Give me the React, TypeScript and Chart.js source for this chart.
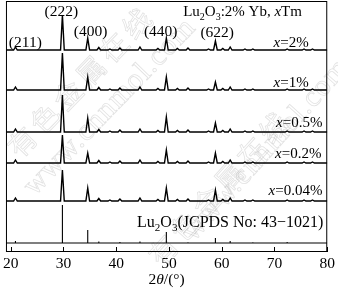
import React, { useEffect, useRef } from "react";
import { Chart, registerables } from "chart.js";

Chart.register(...registerables);

// ---- data ----
const xMin = 19.1;
const xMax = 80;
const xTickValues = [20, 30, 40, 50, 60, 70, 80];

// 2θ positions of the diffraction peaks (degrees)
const peakPositions = [20.9, 29.8, 34.6, 36.7, 38.8, 40.7, 44.5, 47.9, 49.5, 51.6, 53.6, 57.5, 58.8, 60.2, 61.6, 64.4, 65.9, 72.4, 75.6, 77.2];

const seriesLabels = ["x=2%", "x=1%", "x=0.5%", "x=0.2%", "x=0.04%"];
// vertical offsets of the stacked patterns (a.u.)
const seriesOffsets = [202, 162, 120, 89, 51];
// peak intensities (a.u.) for each sample, in the order of peakPositions
const int2 = [3, 35, 12, 2.5, 1, 2, 3, 1.5, 12, 1.5, 2, 1, 9, 1.5, 3, 1, 1, 1, 1, 1];
const int1 = [3, 37, 13, 2.5, 1, 2, 3, 1.5, 13, 1.5, 2, 1, 8, 1.5, 3, 1, 1, 1, 1, 1];
const int05 = [3, 37, 14, 2.5, 1, 2, 3, 1.5, 15, 1.5, 2, 1, 9, 1.5, 3, 1, 1, 1, 1, 1];
const int02 = [3, 28, 10, 2.5, 1, 2, 3, 1.5, 13, 1.5, 2, 1, 10, 1.5, 3, 1, 1, 1, 1, 1];
const int004 = [3, 31, 13, 2.5, 1, 2, 3, 1.5, 13, 1.5, 2, 1, 11, 1.5, 3, 1, 1, 1, 1, 1];
const seriesIntensities = [int2, int1, int05, int02, int004];

// JCPDS 43-1021 reference sticks
const jcpdsOffset = 9;
const jcpdsIntensities = [2, 38, 13, 1.5, 0, 1, 1.5, 0, 11, 0, 0.8, 0, 5, 0, 2, 0, 0.8, 1, 0.6, 0];

const peakLabels = ["(211)", "(222)", "(400)", "(440)", "(622)"];

const yMin = 0;
const yMax = 251;
const peakHalfWidth = 0.35;

// ---- helpers ----
const SERIF = "'Liberation Serif', 'Times New Roman', serif";

function buildPattern(offset: number, intens: number[]) {
  const pts: { x: number; y: number }[] = [{ x: xMin, y: offset }];
  peakPositions.forEach((p, i) => {
    const h = intens[i];
    if (!h) return;
    pts.push({ x: p - peakHalfWidth, y: offset });
    pts.push({ x: p, y: offset + h });
    pts.push({ x: p + peakHalfWidth, y: offset });
  });
  pts.push({ x: xMax, y: offset });
  return pts;
}

function buildSticks(offset: number, intens: number[]) {
  const pts: { x: number; y: number }[] = [{ x: xMin, y: offset }];
  peakPositions.forEach((p, i) => {
    const h = intens[i];
    if (!h) return;
    pts.push({ x: p, y: offset });
    pts.push({ x: p, y: offset + h });
    pts.push({ x: p, y: offset });
  });
  pts.push({ x: xMax, y: offset });
  return pts;
}

type Seg = { t: string; italic?: boolean; sub?: boolean };

function drawRich(ctx: CanvasRenderingContext2D, segs: Seg[], x: number, y: number, align: "left" | "center" | "right", size: number) {
  const fontOf = (s: Seg) => `${s.italic ? "italic " : ""}${s.sub ? Math.round(size * 0.68) : size}px ${SERIF}`;
  let total = 0;
  const widths = segs.map((s) => {
    ctx.font = fontOf(s);
    const w = ctx.measureText(s.t).width;
    total += w;
    return w;
  });
  let cx = align === "left" ? x : align === "center" ? x - total / 2 : x - total;
  ctx.textAlign = "left";
  ctx.textBaseline = "alphabetic";
  segs.forEach((s, i) => {
    ctx.font = fontOf(s);
    ctx.fillText(s.t, cx, y + (s.sub ? size * 0.27 : 0));
    cx += widths[i];
  });
}

function drawWatermark(ctx: CanvasRenderingContext2D, text: string, cx: number, cy: number, angle: number, font: string, spacing: string) {
  ctx.save();
  ctx.translate(cx, cy);
  ctx.rotate((angle * Math.PI) / 180);
  ctx.font = font;
  (ctx as any).letterSpacing = spacing;
  ctx.textAlign = "center";
  ctx.textBaseline = "middle";
  ctx.strokeStyle = "rgba(160,160,160,0.3)";
  ctx.lineWidth = 0.8;
  ctx.strokeText(text, 0, 0);
  ctx.restore();
}

const decorPlugin = {
  id: "decor",
  beforeDatasetsDraw(chart: any) {
    const ctx: CanvasRenderingContext2D = chart.ctx;
    drawWatermark(ctx, "有色金属在线", 81, 81, -46, "28px 'Noto Sans CJK SC'", "5px");
    drawWatermark(ctx, "www.cnnmol.com", 110, 107, -46, `30px ${SERIF}`, "1px");
    drawWatermark(ctx, "有色金属在线", 220, 187, -48, "28px 'Noto Sans CJK SC'", "5px");
    drawWatermark(ctx, "www.cnnmol.com", 266, 150, -48, `30px ${SERIF}`, "1px");
  },
  afterDatasetsDraw(chart: any) {
    const ctx: CanvasRenderingContext2D = chart.ctx;
    const { left, right, top, bottom } = chart.chartArea;
    const xs = chart.scales.x;
    const ys = chart.scales.y;
    ctx.save();
    // frame
    ctx.strokeStyle = "#000";
    ctx.lineWidth = 1;
    ctx.strokeRect(left + 0.5, top + 0.5, right - left - 1, bottom - top - 1);
    // inward ticks
    ctx.beginPath();
    xTickValues.forEach((v) => {
      const px = Math.round(xs.getPixelForValue(v)) + 0.5;
      ctx.moveTo(px, bottom);
      ctx.lineTo(px, bottom - 5);
    });
    ctx.stroke();

    ctx.fillStyle = "#000";
    const X = (v: number) => xs.getPixelForValue(v);
    const Y = (v: number) => ys.getPixelForValue(v);
    // peak labels
    const peakAnchor = [
      [22.77, 205],
      [29.6, 236],
      [35.14, 216],
      [48.43, 216],
      [59.14, 215],
    ];
    peakLabels.forEach((l, i) => drawRich(ctx, [{ t: l }], X(peakAnchor[i][0]), Y(peakAnchor[i][1]), "center", 15.5));
    // title
    drawRich(
      ctx,
      [{ t: "Lu" }, { t: "2", sub: true }, { t: "O" }, { t: "3", sub: true }, { t: ":2% Yb, " }, { t: "x", italic: true }, { t: "Tm" }],
      X(63.94),
      Y(236.5),
      "center",
      15
    );
    // series labels
    const seriesAnchor = [
      [76.49, 205],
      [76.49, 165],
      [79.08, 125],
      [78.89, 94],
      [79.08, 57],
    ];
    seriesLabels.forEach((l, i) => {
      drawRich(ctx, [{ t: "x", italic: true }, { t: l.slice(1) }], X(seriesAnchor[i][0]), Y(seriesAnchor[i][1]), "right", 15);
    });
    drawRich(
      ctx,
      [{ t: "Lu" }, { t: "2", sub: true }, { t: "O" }, { t: "3", sub: true }, { t: "(JCPDS No: 43\u22121021)" }],
      X(79.26),
      Y(25),
      "right",
      16
    );
    // axis title
    drawRich(ctx, [{ t: "2" }, { t: "\u03b8", italic: true }, { t: "/(\u00b0)" }], (left + right) / 2, bottom + 32, "center", 15.5);
    ctx.restore();
  },
};

export default function App() {
  const ref = useRef<HTMLCanvasElement>(null);
  useEffect(() => {
    if (!ref.current) return;
    const datasets: any[] = seriesIntensities.map((ints, i) => ({
      label: seriesLabels[i],
      data: buildPattern(seriesOffsets[i], ints),
      borderColor: "#000",
      borderWidth: 1.4,
      pointRadius: 0,
      tension: 0,
      fill: false,
    }));
    datasets.push({
      label: "JCPDS 43-1021",
      data: buildSticks(jcpdsOffset, jcpdsIntensities),
      borderColor: "#000",
      borderWidth: 1.1,
      pointRadius: 0,
      tension: 0,
      fill: false,
    });
    const chart = new Chart(ref.current, {
      type: "line",
      data: { datasets },
      plugins: [decorPlugin],
      options: {
        responsive: false,
        animation: false,
        devicePixelRatio: 1,
        layout: { padding: { left: 2, right: 6, top: 1, bottom: 0 }, autoPadding: false } as any,
        plugins: { legend: { display: false }, tooltip: { enabled: false } },
        scales: {
          x: {
            type: "linear",
            min: xMin,
            max: xMax,
            afterBuildTicks: (scale: any) => {
              scale.ticks = xTickValues.map((v) => ({ value: v }));
            },
            afterFit: (scale: any) => {
              scale.height = 38;
            },
            grid: { display: false, drawTicks: false },
            border: { display: false },
            ticks: {
              padding: 3,
              color: "#000",
              maxRotation: 0,
              autoSkip: false,
              font: { family: SERIF, size: 15.5 },
            },
          },
          y: { type: "linear", display: false, min: yMin, max: yMax },
        },
      } as any,
    });
    return () => chart.destroy();
  }, []);
  return (
    <div style={{ position: "fixed", left: 0, top: 0, width: 338, height: 290, background: "#fff" }}>
      <canvas ref={ref} width={338} height={290} style={{ width: 338, height: 290 }} />
    </div>
  );
}
